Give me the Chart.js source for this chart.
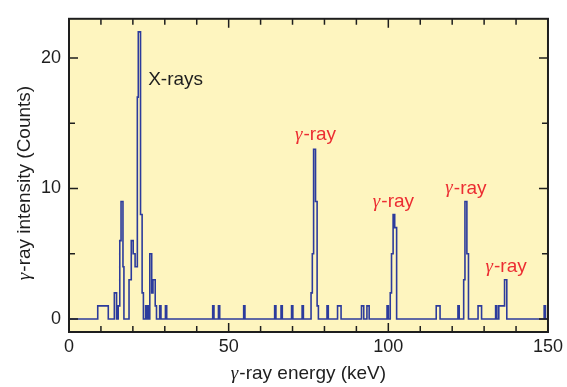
<!DOCTYPE html>
<html>
<head>
<meta charset="utf-8">
<script src="https://cdn.jsdelivr.net/npm/chart.js@4.4.1/dist/chart.umd.min.js"></script>
<style>
  html, body { margin: 0; padding: 0; background: #fff; }
  canvas { display: block; }
</style>
</head>
<body>
<canvas id="spectrum" width="567" height="387"></canvas>
<script>
/* gamma-ray spectrum - step histogram */

// Bin edges (keV) and the count held from each edge to the next one
const binEdges = [
  0, 9.0, 12.3, 14.2, 14.9, 15.4, 15.9, 16.3, 16.9, 17.2,
  18.8, 19.5, 20.1, 20.7, 21.4, 21.7, 22.4, 22.9, 23.3,
  24.0, 24.3, 24.6, 24.9, 25.3, 25.9, 26.3, 27.0, 27.4,
  28.4, 28.8, 30.2, 30.6, 45.0, 45.4, 46.8, 47.2, 54.7, 55.1,
  64.4, 64.8, 66.4, 66.8, 69.7, 70.1, 73.0, 73.4,
  75.8, 76.2, 76.6, 77.2, 77.7, 78.1, 80.8, 81.2, 84.1, 85.2,
  91.6, 92.3, 93.3, 94.0, 99.6, 100.0,
  100.6, 101.0, 101.5, 102.0, 102.6, 115.0, 116.2, 121.8, 122.2,
  123.6, 124.0, 124.6, 125.1, 128.1, 129.2,
  133.6, 134.0, 134.6, 136.4, 137.1, 148.8, 149.2, 150
];
const binCounts = [
  0, 1, 0, 2, 0, 1, 6, 9, 4, 0,
  3, 6, 5, 4, 17, 22, 8, 2, 0,
  1, 0, 1, 0, 5, 2, 3, 1, 0,
  1, 0, 1, 0, 1, 0, 1, 0, 1, 0,
  1, 0, 1, 0, 1, 0, 1, 0,
  2, 5, 13, 9, 1, 0, 1, 0, 1, 0,
  1, 0, 1, 0, 1, 0,
  2, 5, 8, 7, 0, 1, 0, 1, 0,
  3, 9, 5, 0, 1, 0,
  1, 0, 1, 3, 0, 1, 0, 0
];

// Axis ticks
const xTicks = [0, 50, 100, 150];
const xMinorTicks = [10, 20, 30, 40, 60, 70, 80, 90, 110, 120, 130, 140];
const yTicks = [0, 10, 20];
const yMinorTicks = [5, 15];

// Peak labels (keV, counts)
const peakLabels = ['X-rays', '-ray', '-ray', '-ray', '-ray'];
const peakLabelX = [24.8, 77.2, 101.6, 124.3, 136.9];
const peakLabelY = [18.3, 14.1, 9.0, 10.0, 4.0];

const BLUE = '#2c3b9c';
const RED = '#ec2d32';
const INK = '#1e1e1e';
const PAPER = '#fef5bf';
const SANS = '"Liberation Sans", Arial, sans-serif';
const SERIF = '"Liberation Serif", "Times New Roman", serif';

const points = binEdges.map((e, i) => ({ x: e, y: binCounts[i] }));

// Italic gamma followed by upright text
function gammaText(ctx, rest, x, y, size, color, align) {
  const gFont = `italic ${size}px ${SERIF}`;
  const rFont = `${size}px ${SANS}`;
  ctx.font = gFont;
  const gw = ctx.measureText('\u03b3').width + 1;
  ctx.font = rFont;
  const rw = ctx.measureText(rest).width;
  const x0 = align === 'center' ? x - (gw + rw) / 2 : x;
  ctx.fillStyle = color;
  ctx.textAlign = 'left';
  ctx.textBaseline = 'middle';
  ctx.font = gFont;
  ctx.fillText('\u03b3', x0, y);
  ctx.font = rFont;
  ctx.fillText(rest, x0 + gw, y);
}

const frame = {
  id: 'frame',
  beforeDraw(chart) {
    const { ctx, chartArea: a } = chart;
    ctx.save();
    ctx.fillStyle = PAPER;
    ctx.fillRect(a.left, a.top, a.width, a.height);
    ctx.restore();
  },
  afterDatasetsDraw(chart) {
    const { ctx, scales: { x, y } } = chart;
    ctx.save();
    peakLabels.forEach((t, i) => {
      const px = x.getPixelForValue(peakLabelX[i]);
      const py = y.getPixelForValue(peakLabelY[i]);
      if (i === 0) {
        ctx.font = `19px ${SANS}`;
        ctx.fillStyle = INK;
        ctx.textAlign = 'left';
        ctx.textBaseline = 'middle';
        ctx.fillText(t, px, py);
      } else {
        gammaText(ctx, t, px, py, 19, RED, 'center');
      }
    });
    ctx.restore();
  },
  afterDraw(chart) {
    const { ctx, chartArea: a, scales: { x, y } } = chart;
    ctx.save();
    ctx.strokeStyle = INK;
    ctx.lineWidth = 1.5;
    ctx.beginPath();
    const xt = (v, len) => {
      const p = x.getPixelForValue(v);
      ctx.moveTo(p, a.bottom); ctx.lineTo(p, a.bottom - len);
      ctx.moveTo(p, a.top); ctx.lineTo(p, a.top + len);
    };
    const yt = (v, len) => {
      const p = y.getPixelForValue(v);
      ctx.moveTo(a.left, p); ctx.lineTo(a.left + len, p);
      ctx.moveTo(a.right, p); ctx.lineTo(a.right - len, p);
    };
    xTicks.forEach(v => xt(v, 9));
    xMinorTicks.forEach(v => xt(v, 6));
    yTicks.forEach(v => yt(v, 9));
    yMinorTicks.forEach(v => yt(v, 6));
    ctx.stroke();
    ctx.lineWidth = 2;
    ctx.strokeRect(a.left, a.top, a.width, a.height);

    // axis titles
    gammaText(ctx, '-ray energy (keV)', (a.left + a.right) / 2, 374, 19, INK, 'center');
    ctx.translate(25, 183);
    ctx.rotate(-Math.PI / 2);
    gammaText(ctx, '-ray intensity (Counts)', 0, 0, 19, INK, 'center');
    ctx.restore();
  }
};

new Chart(document.getElementById('spectrum').getContext('2d'), {
  type: 'line',
  data: {
    datasets: [{
      data: points,
      stepped: true,
      borderColor: BLUE,
      borderWidth: 1.6,
      pointRadius: 0,
      fill: false
    }]
  },
  options: {
    responsive: false,
    animation: false,
    layout: { padding: { top: 12, right: 19, left: 0, bottom: 0 } },
    plugins: { legend: { display: false }, tooltip: { enabled: false } },
    scales: {
      x: {
        type: 'linear',
        min: 0,
        max: 150,
        grid: { display: false, drawTicks: false },
        border: { display: false },
        afterBuildTicks: s => { s.ticks = xTicks.map(v => ({ value: v })); },
        afterFit: s => { s.height = 55; },
        ticks: { color: INK, padding: 4, maxRotation: 0, font: { family: SANS, size: 18 } }
      },
      y: {
        min: -1,
        max: 23,
        grid: { display: false, drawTicks: false },
        border: { display: false },
        afterBuildTicks: s => { s.ticks = yTicks.map(v => ({ value: v })); },
        afterFit: s => { s.width = 69; },
        ticks: { color: INK, padding: 8, font: { family: SANS, size: 18 } }
      }
    }
  },
  plugins: [frame]
});
</script>
</body>
</html>
